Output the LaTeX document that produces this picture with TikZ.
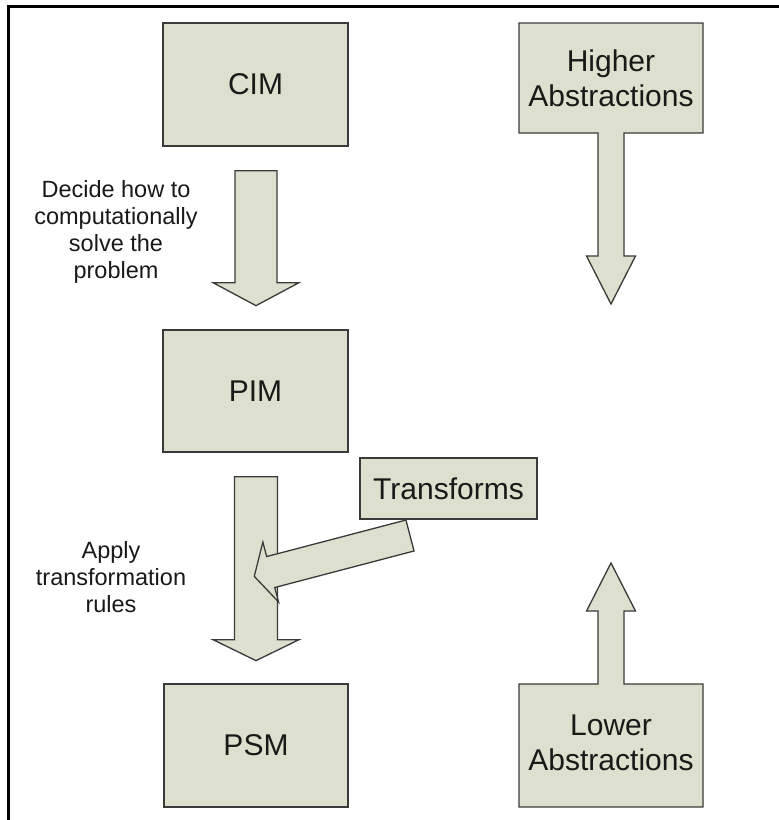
\documentclass[tikz,border=0pt]{standalone}
\usepackage{fontspec}
\setmainfont{Liberation Sans}
\usetikzlibrary{calc}
\definecolor{boxfill}{RGB}{221,224,206}
\definecolor{boxline}{RGB}{58,58,58}
\definecolor{inktext}{RGB}{25,25,25}

\tikzset{
  shape outline/.style={draw=boxline, fill=boxfill, line width=1.3pt, line join=miter},
  modelbox/.style={shape outline, rectangle, inner sep=0pt, text=inktext,
    font=\fontsize{30}{35}\selectfont, align=center},
  bigtext/.style={text=inktext, font=\fontsize{30}{35}\selectfont, align=center, inner sep=0pt},
  note/.style={text=inktext, font=\fontsize{23.5}{27}\selectfont, align=center, inner sep=0pt},
  frameline/.style={line width=2.8pt, black, line join=miter},
  % block arrow along the local x axis: total length / start of head / shaft half width / head half width
  pics/blockarrow/.style args={#1/#2/#3/#4}{code={
    \draw[shape outline] (0,-#3) -- (#2,-#3) -- (#2,-#4) -- (#1,0) -- (#2,#4) -- (#2,#3) -- (0,#3) -- cycle;
  }}
}

\begin{document}
\begin{tikzpicture}[x=1pt,y=-1pt]
\useasboundingbox (0,0) rectangle (779,820);
\fill[white] (0,0) rectangle (779,820);

% frame
\draw[frameline] (8.7,820) -- (8.7,6.2) -- (779,6.2);

% model boxes
\node[modelbox, minimum width=185pt, minimum height=123pt] (cim) at (255.5,84.5) {CIM};
\node[modelbox, minimum width=185pt, minimum height=122pt] (pim) at (255.5,391) {PIM};
\node[modelbox, minimum width=184pt, minimum height=123pt] (psm) at (256,745.5) {PSM};

% CIM -> PIM
\coordinate (cimout) at ($(cim.south)+(0.5,24)$);
\pic[rotate=-90] at (cimout) {blockarrow=135/112/21/43};
\node[note] (decide) at (116,231.5) {Decide how to\\computationally\\solve the\\problem};

% PIM -> PSM
\coordinate (pimout) at ($(pim.south)+(0.5,24)$);
\pic[rotate=-90] at (pimout) {blockarrow=184/163/21.5/43};
\node[note] (apply) at (111,577) {Apply\\transformation\\rules};

% transforms feeding the PIM -> PSM step
\coordinate (trout) at (410,535.5);
\pic[rotate=194.7] at (trout) {blockarrow=161/144/16/31};
\node[modelbox, minimum width=177pt, minimum height=61pt] (transforms) at (448.5,488.5) {Transforms};

% higher abstractions, pointing down
\draw[shape outline] (519,23) -- (703,23) -- (703,133) -- (624,133) -- (624,256) -- (635.5,256)
  -- (611,304) -- (586.5,256) -- (598,256) -- (598,133) -- (519,133) -- cycle;
\node[bigtext] (higher) at (611,78) {Higher\\Abstractions};

% lower abstractions, pointing up
\draw[shape outline] (519,807) -- (703,807) -- (703,684) -- (624,684) -- (624,611) -- (635.5,611)
  -- (611,563) -- (586.5,611) -- (598,611) -- (598,684) -- (519,684) -- cycle;
\node[bigtext] (lower) at (611,743) {Lower\\Abstractions};
\end{tikzpicture}
\end{document}
